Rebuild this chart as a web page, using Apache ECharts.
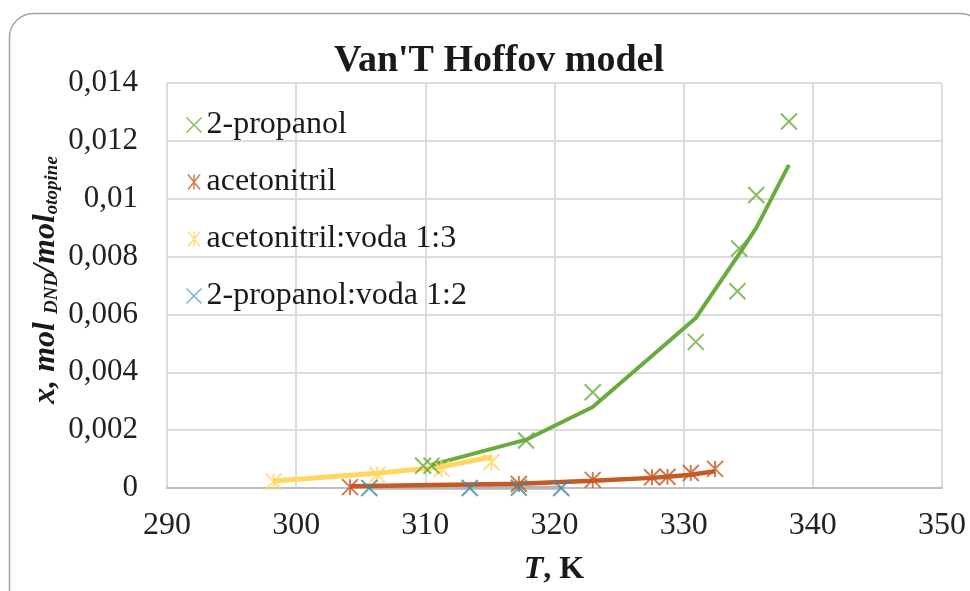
<!DOCTYPE html>
<html>
<head>
<meta charset="utf-8">
<script src="https://cdn.jsdelivr.net/npm/echarts@6/dist/echarts.min.js"></script>
<style>
html,body{margin:0;padding:0;background:#fff;}
#chart{width:970px;height:591px;}
</style>
</head>
<body>
<div id="chart"></div>
<script>
// ---- data ----
const xTicks = [290, 300, 310, 320, 330, 340, 350];
const yTicks = [0, 0.002, 0.004, 0.006, 0.008, 0.01, 0.012, 0.014];

const propT   = [309.83, 310.48, 317.80, 322.96, 330.94, 334.16, 334.29, 335.62, 338.15];
const propX   = [0.00077, 0.00077, 0.00164, 0.00331, 0.00505, 0.00680, 0.00828, 0.01013, 0.01267];
const propFitT = [310.48, 317.80, 322.96, 330.94, 334.16, 334.29, 335.62, 338.15];
const propFit  = [0.00080, 0.00167, 0.00280, 0.00588, 0.00800, 0.00806, 0.00899, 0.01117];

const acT   = [304.17, 317.24, 322.96, 327.55, 328.75, 330.55, 332.43];
const acX   = [0.00003, 0.00014, 0.00028, 0.00037, 0.00039, 0.00052, 0.00066];
const acFit = [0.00006, 0.00015, 0.00025, 0.00035, 0.00039, 0.00046, 0.00058];

const awT   = [298.25, 306.28, 311.25, 315.11];
const awX   = [0.00022, 0.00046, 0.00066, 0.00089];
const awFit = [0.00024, 0.00051, 0.00073, 0.00107];

const pwT   = [305.66, 313.44, 317.24, 320.52];
const pwX   = [0.00000, 0.00000, 0.00001, 0.00000];
const pwFit = [0.00001, 0.00001, 0.00001, 0.00001];

const names = ['2-propanol', 'acetonitril', 'acetonitril:voda 1:3', '2-propanol:voda 1:2'];

// ---- styling ----
const FONT = "'Liberation Serif', 'Times New Roman', serif";
const C_GREEN = '#6aab3f', C_ORANGE = '#c55a25', C_YELLOW = '#ffd760', C_BLUE = '#3f8b9f', C_BLUE_LEG = '#5b9bd5';
const X_PATH = 'path://M0,0L20,20M20,0L0,20';
const AST_PATH = 'path://M2,0L18,20M18,0L2,20M10,0L10,20';

function zip(a, b) { return a.map((v, i) => [v, b[i]]); }
function fmt(v) { return String(parseFloat(v.toFixed(4))).replace('.', ','); }

function scatter(name, t, x, color, sym, z) {
  return {
    name: name, type: 'scatter', data: zip(t, x), symbol: sym, symbolSize: [16, 16],
    itemStyle: { color: 'none', borderColor: color, borderWidth: 2 },
    z: z, silent: true, animation: false
  };
}
function fitLine(name, t, x, color, w, z) {
  return {
    name: name, type: 'line', data: zip(t, x), showSymbol: false, symbol: 'none',
    lineStyle: { color: color, width: w }, itemStyle: { color: color },
    z: z, silent: true, animation: false
  };
}

const chart = echarts.init(document.getElementById('chart'));
chart.setOption({
  animation: false,
  backgroundColor: '#fff',
  title: {
    text: "Van'T Hoffov model", left: 494, top: 37, textAlign: 'center',
    textStyle: { fontFamily: FONT, fontSize: 38, fontWeight: 'bold', color: '#1a1a1a' }
  },
  grid: { left: 167, right: 28, top: 83, bottom: 103 },
  legend: {
    orient: 'vertical', left: 184, top: 109, padding: 0, itemGap: 25,
    itemWidth: 15, itemHeight: 15,
    textStyle: { fontFamily: FONT, fontSize: 32, color: '#1a1a1a', lineHeight: 32 },
    data: [
      { name: names[0], icon: X_PATH, itemStyle: { color: 'none', borderColor: C_GREEN, borderWidth: 1.5 } },
      { name: names[1], icon: AST_PATH, itemStyle: { color: 'none', borderColor: C_ORANGE, borderWidth: 1.5 } },
      { name: names[2], icon: AST_PATH, itemStyle: { color: 'none', borderColor: C_YELLOW, borderWidth: 1.5 } },
      { name: names[3], icon: X_PATH, itemStyle: { color: 'none', borderColor: C_BLUE_LEG, borderWidth: 1.5 } }
    ]
  },
  xAxis: {
    type: 'value', min: xTicks[0], max: xTicks[xTicks.length - 1], interval: 10,
    axisLine: { show: true, lineStyle: { color: '#bfbfbf', width: 2 } },
    axisTick: { show: false },
    axisLabel: { fontFamily: FONT, fontSize: 32, color: '#222', margin: 22 },
    splitLine: { show: true, lineStyle: { color: '#dcdcdc', width: 2 } }
  },
  yAxis: {
    type: 'value', min: yTicks[0], max: yTicks[yTicks.length - 1], interval: 0.002,
    axisLine: { show: true, lineStyle: { color: '#dcdcdc', width: 2 } },
    axisTick: { show: false },
    axisLabel: { fontFamily: FONT, fontSize: 31, color: '#222', margin: 29, formatter: fmt },
    splitLine: { show: true, lineStyle: { color: '#dcdcdc', width: 2 } }
  },
  graphic: [
    {
      type: 'rect', silent: true, z: -10,
      shape: { x: 9.5, y: 13.5, width: 975, height: 640, r: 24 },
      style: { fill: 'none', stroke: '#a3a3a3', lineWidth: 1.5 }
    },
    {
      type: 'text', x: 46, y: 280, rotation: Math.PI / 2, silent: true,
      style: {
        text: '{a|x, mol }{b|DND}{a|/mol}{b|otopine}',
        align: 'center', verticalAlign: 'middle',
        rich: {
          a: { fontFamily: FONT, fontSize: 32, fontWeight: 'bold', fontStyle: 'italic', fill: '#1a1a1a', lineHeight: 32, verticalAlign: 'middle' },
          b: { fontFamily: FONT, fontSize: 19, fontWeight: 'bold', fontStyle: 'italic', fill: '#1a1a1a', lineHeight: 19, verticalAlign: 'bottom' }
        }
      }
    },
    {
      type: 'text', x: 554, y: 570, silent: true,
      style: {
        text: '{i|T}{n|, K}', align: 'center', verticalAlign: 'middle',
        rich: {
          i: { fontFamily: FONT, fontSize: 32, fontWeight: 'bold', fontStyle: 'italic', fill: '#1a1a1a' },
          n: { fontFamily: FONT, fontSize: 32, fontWeight: 'bold', fill: '#1a1a1a' }
        }
      }
    }
  ],
  series: [
    fitLine('pw-fit', pwT, pwFit, '#b3b3b3', 4, 2),
    fitLine('ac-fit', acT, acFit, C_ORANGE, 4.5, 3),
    fitLine('aw-fit', awT, awFit, C_YELLOW, 5, 3),
    fitLine('prop-fit', propFitT, propFit, C_GREEN, 4, 3),
    scatter(names[2], awT, awX, C_YELLOW, AST_PATH, 5),
    scatter(names[1], acT, acX, C_ORANGE, AST_PATH, 6),
    scatter(names[0], propT, propX, C_GREEN, X_PATH, 7),
    scatter(names[3], pwT, pwX, C_BLUE, X_PATH, 8)
  ]
});
</script>
</body>
</html>
